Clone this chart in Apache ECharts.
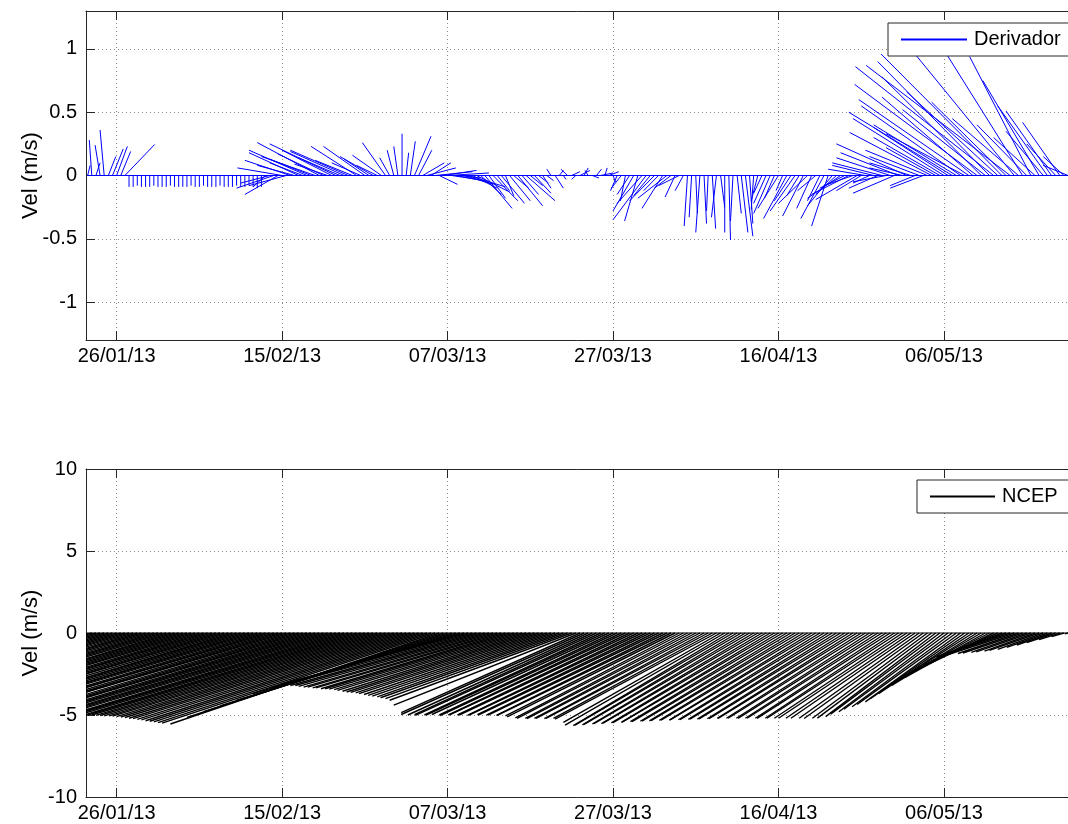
<!DOCTYPE html>
<html>
<head>
<meta charset="utf-8">
<title>Derivador x NCEP</title>
<script src="https://cdn.jsdelivr.net/npm/echarts@6/dist/echarts.min.js"></script>
<style>
  html, body { margin: 0; padding: 0; background: #fff; }
  #chart { width: 1068px; height: 824px; }
</style>
</head>
<body>
<div id="chart"></div>
<script>
/* -------------------------------------------------------------------------- */
/*                      Feather plots: Derivador / NCEP                       */
/* -------------------------------------------------------------------------- */

// time axis in days since 01/01/13 (0 = 01/01/13), one vector every 12 h
const sampleStart = 21.5;
const sampleStep = 0.5;

const tickDays = [25, 45, 65, 85, 105, 125];
const tickLabels = ['26/01/13', '15/02/13', '07/03/13', '27/03/13', '16/04/13', '06/05/13'];

// stick x-offset (in days of the time axis) and vertical component (m/s)
const derivadorU = [
  0.3, -0.3, 0.5, -0.6, -0.5, 0.9, 1.3, 1.3, 1.2, 3.6,
  0, 0, 0, 0, 0, 0, 0, 0, 0, 0, 0,
  0, 0, 0, 0, 0, 0, 0, 0, 0, 0, 0,
  0, 0, 0, 0, 0, 0, 0, 0, 0, 0, 0,
  -1.5, -3.5, -4.5, -4.0, -5.4, -4.5, -5.5, -4.5, -6.0, -4.0,
  -7.0, -5.0, -6.5, -7.5, -5.5, -4.0, -6.0, -8.0, -5.0, -6.5,
  -7.0, -4.5, -5.5, -3.5, -5.0, -3.0, -4.0, -2.5, -3.5, -2.8,
  -1.2, -0.8, -0.5, 0, 0.3, 0.6, 2.0, 1.6, 2.6, 3.5,
  2.4, 4.5, 2.2, 4.0, 5.0,
  3.0, 4.0, 2.5, 3.5, 4.5, 3.0, 4.0, 2.5, 3.3, 2.0,
  3.0, 1.5, 2.8, 1.0, 2.5, 1.8, 3.0, 2.0, 3.5, 1.5,
  2.0, 1.2, 1.0, 0.8, -0.5, 1.0, 0.5, 0.3, -0.8, 1.0,
  -0.5, 1.2, 0.5, -0.4, 0.8, 0.6, 1.5, 0.3, 1.2,
  0.3, -0.8, -1.2, -0.6, -1.5, -2.5, -1.6, -3.0, -4.0, -2.0,
  -3.0, -1.8, -2.5, -3.5, -2.0, -1.2, -2.5, -1.0, -0.4, -0.3,
  0.2, -0.5, 0.3, -0.2, 0.4, -0.6, 0.5, 0.0, 0.2, -0.3,
  0.5, 0.8, 0.9, 0.4, -0.3, -0.8, -1.0, -1.5, -2.0, -1.2,
  -2.5, -0.8, -2.8, -2.0, -3.0, -1.5, -2.5, -3.5, -1.8, -2.2,
  -1.5, -2.8, -2.0, -3.0, -2.5, -4.0, -3.0, -4.5, -3.5, -5.0,
  -3.0, -4.5, -2.0, -5.0, -3.5, -6.0, -4.0, -6.5, -5.0, -7.0,
  -4.0, -8.5, -5.0, -3.0, -6.0, -4.0, -7.5, -9.9, -6.0, -8.0,
  -11.0, -9.0, -12.5, -10.0, -12.0, -9.5, -13.3, -11.0, -14.8, -12.0,
  -10.0, -13.5, -16.7, -11.0, -14.6, -9.0, -17.4, -12.0, -8.0, -9.1,
  -6.0, -7.4, -5.0, -6.8, -4.5, -6.0, -5.5, -3.5, -4.5, -2.5,
  -3.0
];
const derivadorV = [
  0.08, 0.28, 0.1, 0.24, 0.36, 0.15, 0.21, 0.23, 0.19, 0.245,
  -0.09, -0.09, -0.08, -0.09, -0.09, -0.09, -0.08, -0.09, -0.09, -0.09, -0.08,
  -0.09, -0.09, -0.09, -0.09, -0.08, -0.09, -0.09, -0.08, -0.09, -0.09, -0.09,
  -0.08, -0.09, -0.09, -0.09, -0.08, -0.09, -0.09, -0.08, -0.09, -0.1, -0.09,
  -0.09, -0.06, -0.1, -0.15, 0.06, -0.08, 0.12, 0.08, 0.18, 0.1,
  0.2, 0.13, 0.15, 0.26, 0.17, 0.09, 0.2, 0.25, 0.14, 0.19,
  0.2, 0.12, 0.23, 0.1, 0.23, 0.13, 0.15, 0.08, 0.16, 0.26,
  0.14, 0.2, 0.23, 0.33, 0.18, 0.27, 0.31, 0.2, 0.1, 0.06,
  0.1, 0.03, -0.07, 0.04, 0.02,
  -0.03, -0.05, -0.02, -0.07, -0.09, -0.1, -0.13, -0.15, -0.26, -0.18,
  -0.2, -0.12, -0.22, -0.16, -0.2, -0.1, -0.24, -0.15, -0.2, -0.08,
  -0.14, -0.06, -0.1, -0.04, 0.05, -0.1, 0.04, -0.03, 0.05, 0.03,
  -0.03, 0.04, 0.06, 0.04, -0.02, 0.05, 0.02, 0.06, 0.03,
  -0.05, -0.12, -0.1, -0.2, -0.15, -0.28, -0.36, -0.22, -0.35, -0.16,
  -0.2, -0.12, -0.26, -0.18, -0.1, -0.17, -0.08, -0.12, -0.4, -0.33,
  -0.3, -0.45, -0.38, -0.28, -0.42, -0.33, -0.25, -0.45, -0.51, -0.36,
  -0.3, -0.45, -0.48, -0.38, -0.27, -0.2, -0.14, -0.22, -0.3, -0.18,
  -0.26, -0.12, -0.34, -0.2, -0.28, -0.16, -0.32, -0.22, -0.26, -0.12,
  -0.2, -0.34, -0.4, -0.24, -0.15, -0.18, -0.1, -0.15, -0.08, -0.19,
  -0.12, 0.05, -0.06, 0.08, -0.1, 0.1, -0.05, 0.14, -0.14, 0.18,
  0.06, 0.25, 0.1, -0.08, 0.15, -0.1, 0.2, 0.34, 0.22, 0.3,
  0.45, 0.38, 0.5, 0.4, 0.55, 0.33, 0.6, 0.62, 0.72, 0.78,
  0.52, 0.9, 0.86, 0.66, 0.96, 0.58, 0.87, 0.96, 0.45, 0.95,
  0.4, 0.94, 0.3, 0.75, 0.35, 0.55, 0.51, 0.25, 0.42, 0.15,
  0.08
];

const ncepU = [
  -33.0, -32.8, -33.2, -33.0, -32.9, -33.1, -33.0, -32.7, -33.3, -33.0,
  -33.1, -32.9, -33.0, -33.2, -32.8, -33.0, -33.0, -33.1, -32.9, -33.0,
  -32.8, -33.2, -33.0, -33.0, -33.1, -32.9, -33.3, -33.0, -32.8, -33.0,
  -33.1, -33.0, -32.9, -33.2, -33.0, -32.8, -33.0, -33.1, -33.0, -32.9,
  -33.0, -33.2, -33.0, -32.8, -33.1, -33.0, -32.9, -33.0, -33.3, -33.0,
  -32.9, -33.1, -33.0, -32.8, -33.0, -33.2, -33.0, -32.9, -33.1, -33.0,
  -33.0, -32.8, -33.0, -33.1, -33.0, -32.9,
  -33.0, -33.0, -33.0, -33.0, -33.0, -32.9, -33.0, -33.0, -33.0, -33.0,
  -33.0, -33.0, -33.0, -33.0, -33.0, -33.0, -33.0, -33.0, -33.0,
  -32.5, -31.0, -29.5, -28.0, -26.5, -25.0, -23.5, -22.5,
  -22.5, -22.5, -22.4, -22.5, -22.4, -22.4, -22.3, -22.4, -22.3, -22.3,
  -22.3, -22.2, -22.3, -22.2, -22.2, -22.2, -22.1, -22.2, -22.1, -22.1,
  -22.1, -22.0, -22.1, -22.0, -22.0,
  -22.0, -21.6, -22.1, -21.8, -21.5, -21.9, -21.3, -21.6, -21.4, -21.0,
  -21.4, -20.9, -21.2, -20.8, -21.1, -20.6, -20.9, -20.4, -20.8, -20.3,
  -20.6, -20.1, -20.5, -20.0, -20.3, -19.8, -20.1, -19.6, -19.9, -19.5,
  -19.8, -19.3, -19.6, -19.2, -19.5, -19.0, -19.3, -18.8, -19.1, -18.7,
  -19.0, -18.5, -18.8, -18.4, -18.7, -18.2, -18.5, -18.0, -18.4, -17.9,
  -18.2, -17.7, -18.0, -17.6, -17.9, -17.4, -17.7, -17.2, -17.6, -17.1,
  -17.4, -16.9, -17.2, -16.8, -17.1, -16.6, -16.9, -16.4, -16.8, -16.3,
  -16.6, -16.1, -16.4, -16.0, -16.3, -15.8, -16.1, -15.6, -15.9, -15.5,
  -15.5, -15.1, -15.0, -14.5, -14.4, -13.9, -13.8, -13.3, -13.2, -12.7,
  -12.6, -12.1, -12.0, -11.5, -11.4, -10.9, -10.8, -10.3, -10.2, -9.7,
  -9.6, -9.1, -9.0, -8.5, -8.4, -7.9, -7.8, -7.3, -7.2, -6.7,
  -6.6, -6.1, -6.0, -5.5, -4.9, -4.2, -3.5, -2.5, -1.5, -0.4
];
const ncepV = [
  -5.0, -4.95, -5.05, -5.0, -4.98, -5.02, -5.0, -4.96, -5.04, -5.0,
  -5.0, -4.97, -5.03, -5.0, -4.95, -5.0, -5.02, -5.0, -4.98, -5.0,
  -5.05, -5.0, -4.97, -5.0, -5.02, -4.98, -5.0, -5.04, -5.0, -4.96,
  -5.0, -5.02, -5.0, -4.98, -5.0, -5.03, -4.97, -5.0, -5.0, -5.02,
  -4.98, -5.0, -5.04, -5.0, -4.96, -5.0, -5.02, -5.0, -4.98, -5.0,
  -5.0, -5.03, -4.97, -5.0, -5.02, -5.0, -4.98, -5.0, -5.01, -5.0,
  -4.99, -5.0, -5.02, -5.0, -4.98, -5.0,
  -5.0, -5.0, -5.02, -5.03, -5.05, -5.05, -5.07, -5.1, -5.12, -5.15,
  -5.2, -5.22, -5.27, -5.3, -5.35, -5.38, -5.42, -5.46, -5.5,
  -5.55, -5.15, -4.8, -4.45, -4.1, -3.7, -3.35, -3.1,
  -3.15, -3.2, -3.2, -3.25, -3.3, -3.3, -3.35, -3.35, -3.4, -3.4,
  -3.42, -3.45, -3.5, -3.55, -3.6, -3.62, -3.65, -3.7, -3.75, -3.8,
  -3.85, -3.9, -3.95, -4.0, -4.1,
  -4.4, -4.85, -4.97, -5.0, -4.98, -5.02, -5.0, -5.0, -4.97, -5.0,
  -5.03, -5.0, -4.98, -5.0, -5.0, -5.02, -5.0, -4.98, -5.0, -5.01,
  -5.0, -5.02, -5.03, -5.06, -5.12, -5.18, -5.2, -5.2, -5.22, -5.2,
  -5.2, -5.22, -5.2, -5.21, -5.25, -5.45, -5.62, -5.65, -5.62, -5.6,
  -5.57, -5.55, -5.53, -5.52, -5.5, -5.48, -5.46, -5.45, -5.43, -5.41,
  -5.4, -5.38, -5.37, -5.36, -5.34, -5.33, -5.32, -5.31, -5.3, -5.29,
  -5.28, -5.27, -5.25, -5.25, -5.24, -5.23, -5.22, -5.21, -5.2, -5.2,
  -5.2, -5.2, -5.21, -5.2, -5.2, -5.2, -5.21, -5.2, -5.2, -5.2,
  -5.2, -5.2, -5.2, -5.2, -5.21, -5.2, -5.19, -5.1, -4.95, -4.8,
  -4.65, -4.5, -4.35, -4.2, -4.0, -3.7, -3.45, -3.2, -2.95, -2.7,
  -2.45, -2.2, -1.95, -1.7, -1.45, -1.32, -1.28, -1.25, -1.22, -1.18,
  -1.15, -1.1, -1.06, -1.0, -0.88, -0.73, -0.58, -0.4, -0.22, -0.05
];

const xMin = 21.3;
const xMax = 141.2;

const FONT = '"Liberation Sans", Arial, Helvetica, sans-serif';
const AXIS_COLOR = '#262626';
const DERIVADOR_COLOR = '#0000ff';
const NCEP_COLOR = '#000000';

const dottedGrid = {
  show: true,
  lineStyle: { color: '#8a8a8a', type: [1, 3], width: 1 }
};

const buildSticks = (u, v) =>
  u.map((du, i) => [sampleStart + i * sampleStep, du, v[i]]);

const baseline = u => [
  [sampleStart, 0],
  [sampleStart + (u.length - 1) * sampleStep, 0]
];

const stickRenderer = (color, width) => (params, api) => {
  const t = api.value(0);
  const base = api.coord([t, 0]);
  const tip = api.coord([t + api.value(1), api.value(2)]);
  return {
    type: 'line',
    shape: { x1: base[0], y1: base[1], x2: tip[0], y2: tip[1] },
    style: { stroke: color, lineWidth: width }
  };
};

const timeAxis = gridIndex => ({
  type: 'value',
  gridIndex,
  position: 'bottom',
  min: xMin,
  max: xMax,
  axisLine: { show: true, onZero: false, lineStyle: { color: AXIS_COLOR } },
  axisTick: {
    show: true,
    inside: true,
    length: 9,
    customValues: tickDays,
    lineStyle: { color: AXIS_COLOR }
  },
  axisLabel: {
    customValues: tickDays,
    formatter: value => tickLabels[tickDays.indexOf(value)] || '',
    margin: 6,
    fontSize: 20,
    fontFamily: FONT,
    color: '#000'
  },
  splitLine: dottedGrid
});

const topBorder = gridIndex => ({
  type: 'value',
  gridIndex,
  position: 'top',
  min: xMin,
  max: xMax,
  axisLine: { show: true, onZero: false, lineStyle: { color: AXIS_COLOR } },
  axisTick: {
    show: true,
    inside: true,
    length: 9,
    customValues: tickDays,
    lineStyle: { color: AXIS_COLOR }
  },
  axisLabel: { show: false },
  splitLine: { show: false }
});

const velAxis = (gridIndex, min, max, ticks) => ({
  type: 'value',
  gridIndex,
  min,
  max,
  name: 'Vel (m/s)',
  nameLocation: 'middle',
  nameGap: 44,
  nameMoveOverlap: false,
  nameTextStyle: { fontSize: 22, fontFamily: FONT, color: '#000' },
  axisLine: { show: true, onZero: false, lineStyle: { color: AXIS_COLOR } },
  axisTick: {
    show: true,
    inside: true,
    length: 9,
    customValues: ticks,
    lineStyle: { color: AXIS_COLOR }
  },
  axisLabel: {
    customValues: ticks,
    margin: 9,
    fontSize: 20,
    fontFamily: FONT,
    color: '#000'
  },
  splitLine: dottedGrid
});

// MATLAB-like legend: boxed, a thin line sample then the name.
// The icon path is drawn large and scaled down, so its outline stroke vanishes.
const legendBox = (name, left, top, color, lineLength) => ({
  data: [{
    name,
    icon: `path://M0,0L${lineLength * 100},0L${lineLength * 100},200L0,200Z`,
    itemStyle: { color, opacity: 1, borderWidth: 0, borderColor: color }
  }],
  left,
  top,
  orient: 'horizontal',
  itemWidth: lineLength,
  itemHeight: 2,
  padding: [5, 11, 5, 13],
  backgroundColor: '#fff',
  borderColor: AXIS_COLOR,
  borderWidth: 1,
  borderRadius: 0,
  selectedMode: false,
  itemStyle: { color, opacity: 1, borderWidth: 0, borderColor: color },
  lineStyle: { color, opacity: 1, width: 1 },
  textStyle: {
    fontSize: 20,
    fontFamily: FONT,
    color: '#000',
    lineHeight: 23,
    padding: [0, 0, 0, 2]
  }
});

const chart = echarts.init(document.getElementById('chart'), null, { renderer: 'canvas' });

chart.setOption({
  backgroundColor: '#fff',
  animation: false,
  textStyle: { fontFamily: FONT },
  grid: [
    { left: 86, top: 11, width: 992, height: 329, outerBoundsMode: 'none' },
    { left: 86, top: 469, width: 992, height: 328, outerBoundsMode: 'none' }
  ],
  xAxis: [timeAxis(0), topBorder(0), timeAxis(1), topBorder(1)],
  yAxis: [
    velAxis(0, -1.3, 1.3, [-1, -0.5, 0, 0.5, 1]),
    velAxis(1, -10, 10, [-10, -5, 0, 5, 10])
  ],
  legend: [
    legendBox('Derivador', 888, 23, DERIVADOR_COLOR, 66),
    legendBox('NCEP', 917, 480, NCEP_COLOR, 65)
  ],
  series: [
    {
      type: 'line',
      name: 'Derivador',
      xAxisIndex: 0,
      yAxisIndex: 0,
      symbol: 'none',
      silent: true,
      color: DERIVADOR_COLOR,
      itemStyle: { color: DERIVADOR_COLOR },
      lineStyle: { color: DERIVADOR_COLOR, width: 1 },
      data: baseline(derivadorU)
    },
    {
      type: 'custom',
      name: 'Derivador',
      xAxisIndex: 0,
      yAxisIndex: 0,
      clip: true,
      silent: true,
      color: DERIVADOR_COLOR,
      itemStyle: { color: DERIVADOR_COLOR },
      encode: { x: 0, y: 2 },
      renderItem: stickRenderer(DERIVADOR_COLOR, 1),
      data: buildSticks(derivadorU, derivadorV)
    },
    {
      type: 'line',
      name: 'NCEP',
      xAxisIndex: 2,
      yAxisIndex: 1,
      symbol: 'none',
      silent: true,
      color: NCEP_COLOR,
      itemStyle: { color: NCEP_COLOR },
      lineStyle: { color: NCEP_COLOR, width: 1 },
      data: baseline(ncepU)
    },
    {
      type: 'custom',
      name: 'NCEP',
      xAxisIndex: 2,
      yAxisIndex: 1,
      clip: true,
      silent: true,
      color: NCEP_COLOR,
      itemStyle: { color: NCEP_COLOR },
      encode: { x: 0, y: 2 },
      renderItem: stickRenderer(NCEP_COLOR, 1.4),
      data: buildSticks(ncepU, ncepV)
    }
  ]
});
</script>
</body>
</html>
